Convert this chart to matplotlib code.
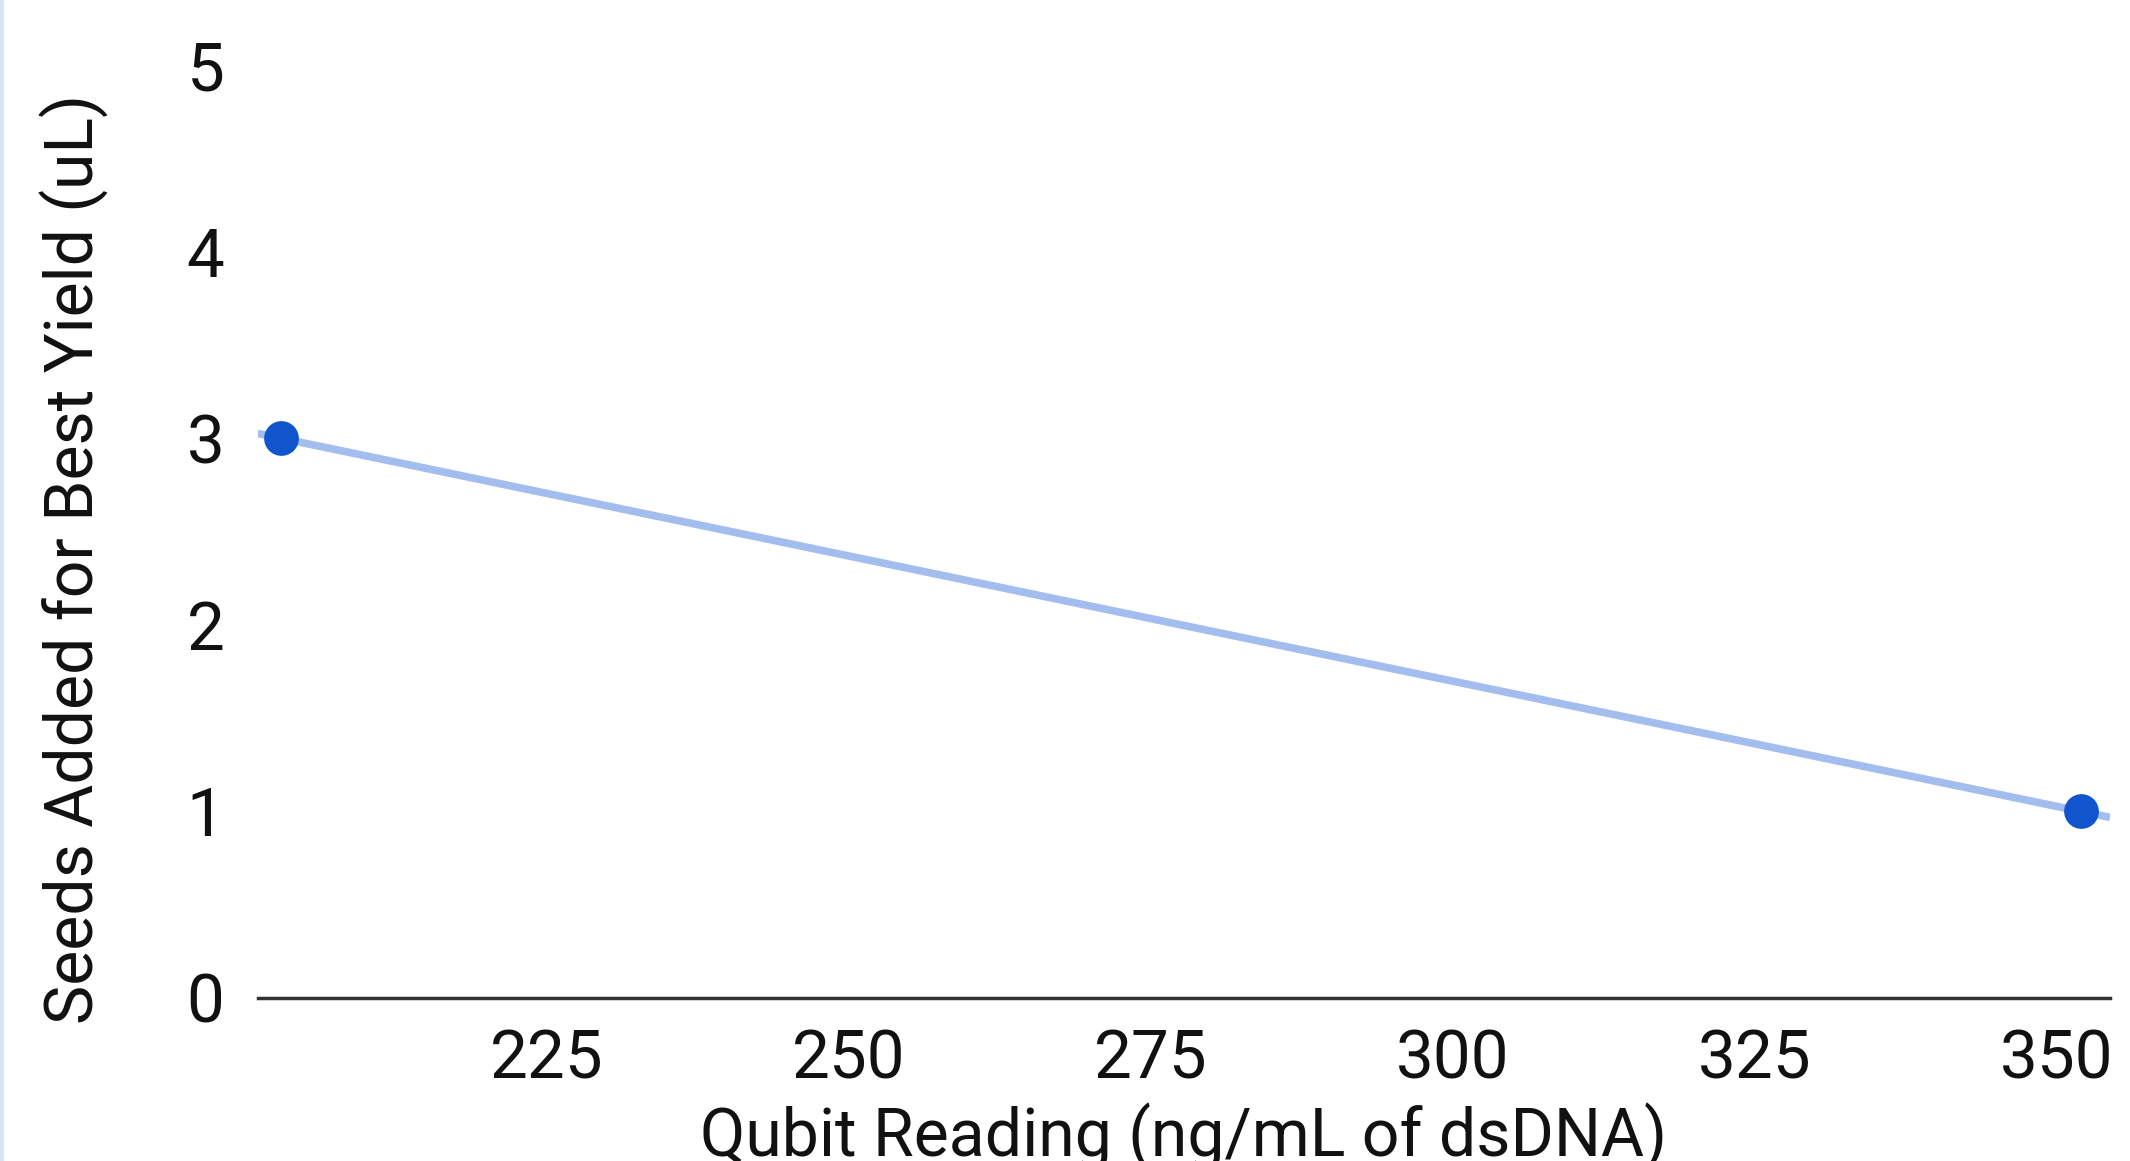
import matplotlib
matplotlib.use('Agg')
from matplotlib import pyplot as plt
from matplotlib.patches import Rectangle
import numpy as np

# Qubit reading vs seeds added
qubit = [203, 352]
seeds = [3, 1]

x_ticks = [225, 250, 275, 300, 325, 350]
y_ticks = [0, 1, 2, 3, 4, 5]

plt.rcParams['font.family'] = ['Roboto', 'DejaVu Sans']

fig = plt.figure(figsize=(21.3, 11.61), dpi=100)
ax = fig.add_axes([0.121, 0.1404, 0.8696, 0.8036])

# linear trendline over the whole axis range
xmin, xmax = 201.1, 354.4
k, b = np.polyfit(qubit, seeds, 1)
tx = np.array([xmin, xmax])
ax.plot(tx, k * tx + b, color='#a3bdef', linewidth=5.5, solid_capstyle='butt', zorder=2)
ax.plot(qubit, seeds, 'o', color='#1155cc', markersize=25, markeredgewidth=0, zorder=3)

ax.set_xlim(xmin, xmax)
ax.set_ylim(0, 5)
ax.set_xticks(x_ticks)
ax.set_yticks(y_ticks)
ax.tick_params(axis='both', length=0, labelsize=48.5, labelcolor='#111111')
ax.tick_params(axis='x', pad=22)
ax.tick_params(axis='y', pad=24)

for s in ['top', 'right', 'left']:
    ax.spines[s].set_visible(False)
ax.spines['bottom'].set_color('#333333')
ax.spines['bottom'].set_linewidth(2.5)

ax.set_xlabel("Qubit Reading (ng/mL of dsDNA)", fontsize=47.6, color='#111111')
ax.set_ylabel("Seeds Added for Best Yield (uL)", fontsize=47.6, color='#111111')
ax.xaxis.set_label_coords(0.5, -0.112)
ax.yaxis.set_label_coords(-0.0805, 0.4705)

# thin light-blue border on the left edge
fig.patches.append(Rectangle((0, 0), 0.002, 1, transform=fig.transFigure,
                             facecolor='#d4e8f4', edgecolor='none'))

plt.savefig('out.png', dpi=100)
plt.close()
